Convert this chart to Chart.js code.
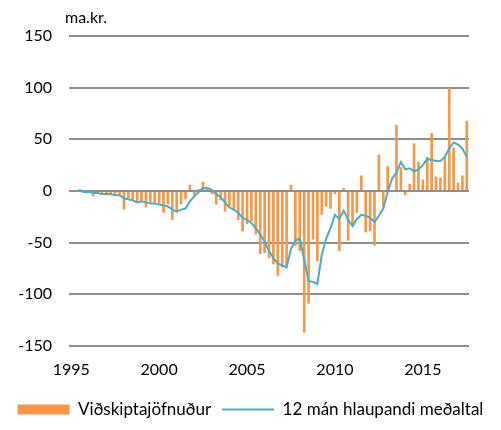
<!DOCTYPE html>
<html lang="is">
<head>
  <meta charset="UTF-8" />
  <title>Viðskiptajöfnuður</title>
  <script src="https://cdn.jsdelivr.net/npm/chart.js"></script>
  <style>
    body { margin: 0; background: #fff; }
    canvas { display: block; }
  </style>
</head>
<body>
  <canvas id="chart" width="501" height="430"></canvas>

  <script>
    // ársfjórðungar 1995Q1 - 2017Q3
    const quarters = [];
    for (let y = 1995; y <= 2017; y++) {
      for (let q = 1; q <= 4; q++) {
        if (quarters.length < 91) quarters.push(y + 'Q' + q);
      }
    }
    const tickYears = ['1995', '2000', '2005', '2010', '2015'];

    // viðskiptajöfnuður, ma.kr.
    const balance = [
      1, -1, 2, -2, -1, -5, -2, -4, -2, -3,
      -3, -4, -18, -7, -8, -10, -11, -16, -11, -11,
      -12, -21, -13, -28, -19, -13, -8, 6, -4, 2,
      9, 2, -3, -13, -9, -20, -15, -19, -28, -39,
      -32, -29, -42, -61, -60, -65, -71, -82, -74, -73,
      6, -53, -58, -137, -109, -47, -68, -23, -15, -17,
      -3, -58, 3, -48, -32, -21, 15, -40, -39, -53,
      35, -15, 24, 1, 64, 23, -4, 7, 46, 28,
      11, 33, 56, 14, 13, 33, 100, 42, 8, 15,
      68
    ];

    // 12 mán hlaupandi meðaltal
    const avg12 = [
      null, 0, 0, -1, -1, -2, -2, -3, -3, -3,
      -4, -4, -7, -8, -9, -11, -10, -11, -12, -12,
      -13, -14, -15, -18, -20, -18, -17, -10, -5, -1,
      3, 3, 1, -3, -6, -11, -16, -18, -21, -26,
      -28, -31, -36, -42, -49, -58, -65, -70, -72, -74,
      -56, -48, -46, -66, -87, -88, -90, -62, -46, -36,
      -23, -27, -19, -28, -34, -27, -23, -24, -26, -30,
      -24, -17, -1, 12, 18, 28, 21, 22, 19, 21,
      25, 31, 30, 29, 29, 33, 41, 47, 45, 41,
      33
    ];

    const unitLabel = {
      id: 'unitLabel',
      afterDraw(chart) {
        const { ctx, chartArea } = chart;
        ctx.save();
        ctx.font = '16px Lato';
        ctx.fillStyle = '#000';
        ctx.textBaseline = 'middle';
        ctx.fillText('ma.kr.', chartArea.left - 4, chartArea.top - 18);
        ctx.restore();
      }
    };

    new Chart(document.getElementById('chart'), {
      data: {
        labels: quarters,
        datasets: [
          {
            type: 'bar',
            label: 'Viðskiptajöfnuður',
            data: balance,
            backgroundColor: '#F79646',
            barPercentage: 0.6,
            categoryPercentage: 1,
            pointStyle: 'rect',
            order: 2
          },
          {
            type: 'line',
            label: '12 mán hlaupandi meðaltal',
            data: avg12,
            borderColor: '#4BACC6',
            backgroundColor: '#4BACC6',
            borderWidth: 2,
            pointRadius: 0,
            pointStyle: 'line',
            tension: 0,
            fill: false,
            order: 1
          }
        ]
      },
      options: {
        responsive: false,
        animation: false,
        layout: { padding: { left: 0, right: 0, top: 36, bottom: 2 } },
        plugins: {
          tooltip: { enabled: false },
          legend: {
            position: 'bottom',
            labels: {
              usePointStyle: true,
              pointStyleWidth: 52,
              boxHeight: 10,
              padding: 11,
              color: '#000',
              font: { family: 'Lato', size: 17 },
              sort: (a, b) => a.datasetIndex - b.datasetIndex
            }
          }
        },
        scales: {
          x: {
            grid: { display: false },
            border: { display: false },
            ticks: {
              autoSkip: false,
              maxRotation: 0,
              padding: 6,
              color: '#000',
              font: { family: 'Lato', size: 16 },
              callback: function (val, i) {
                const q = quarters[i];
                return q.endsWith('Q1') && tickYears.includes(q.slice(0, 4)) ? q.slice(0, 4) : '';
              }
            },
            afterFit: s => { s.height = 44; }
          },
          y: {
            min: -150,
            max: 150,
            border: { display: false },
            grid: { color: '#8e8e8e', lineWidth: 2, drawTicks: false },
            ticks: {
              stepSize: 50,
              padding: 17,
              color: '#000',
              font: { family: 'Lato', size: 16 }
            },
            afterFit: s => { s.width = 69; }
          },
          yRight: {
            position: 'right',
            grid: { display: false },
            border: { display: false },
            ticks: { display: false },
            afterFit: s => { s.width = 32; }
          }
        }
      },
      plugins: [unitLabel]
    });
  </script>
</body>
</html>
